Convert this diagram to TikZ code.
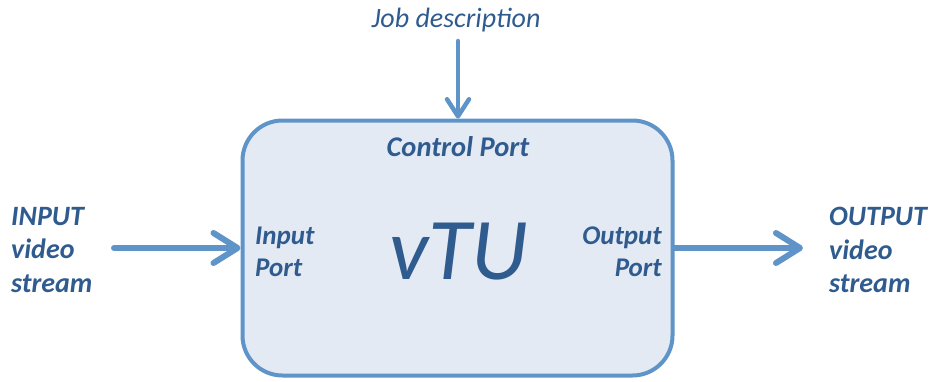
\documentclass[tikz,border=0pt]{standalone}
\usepackage{fontspec}
\setmainfont{Carlito}
\usetikzlibrary{arrows.meta}
\definecolor{txtblue}{HTML}{2F5B8F}
\definecolor{lineblue}{HTML}{5F94C9}
\definecolor{boxfill}{HTML}{E3EAF4}
\tikzset{
  lbl/.style={text=txtblue, font=\fontsize{27}{32}\selectfont\bfseries\itshape, inner sep=0pt},
  flow/.style={draw=lineblue, line width=6pt, line cap=round,
    -{Straight Barb[length=24pt,width=30pt,round]}},
  ctrl/.style={draw=lineblue, line width=4.5pt, line cap=round,
    -{Straight Barb[length=17pt,width=22pt,round]}},
  unit/.style={draw=lineblue, fill=boxfill, line width=4pt, rounded corners=40pt,
    minimum width=430pt, minimum height=255pt, inner sep=0pt}
}
\begin{document}
\begin{tikzpicture}[x=1pt,y=-1pt]
\useasboundingbox (0,0) rectangle (929,381);
\node[unit] (box) at (457.5,248) {};
\node[text=txtblue, font=\fontsize{88}{95}\selectfont\itshape, inner sep=0pt] (vtu) at (459,252) {vTU};
\node[lbl, anchor=center, font=\fontsize{28.5}{32}\selectfont\bfseries\itshape] (cp) at (458,147) {Control Port};
\node[lbl, anchor=west, align=left] (ip) at (255,252) {Input\\Port};
\node[lbl, anchor=east, align=right] (op) at (662,252) {Output\\Port};
\node[lbl, anchor=west, align=left, font=\fontsize{28}{33.5}\selectfont\bfseries\itshape] (in) at (11,250) {INPUT\\video\\stream};
\node[lbl, anchor=west, align=left, font=\fontsize{28}{33.5}\selectfont\bfseries\itshape] (out) at (829,250) {OUTPUT\\video\\stream};
\node[text=txtblue, font=\fontsize{28}{30}\selectfont\itshape, inner sep=0pt] (job) at (456,20) {Job description};
\coordinate (inS) at (114,248);
\coordinate (outE) at (803,248);
\coordinate (jobS) at (458,41);
\draw[flow] (inS) -- (box.west);
\draw[flow] (box.east) -- (outE);
\draw[ctrl] (jobS) -- (box.north -| jobS);
\end{tikzpicture}
\end{document}
